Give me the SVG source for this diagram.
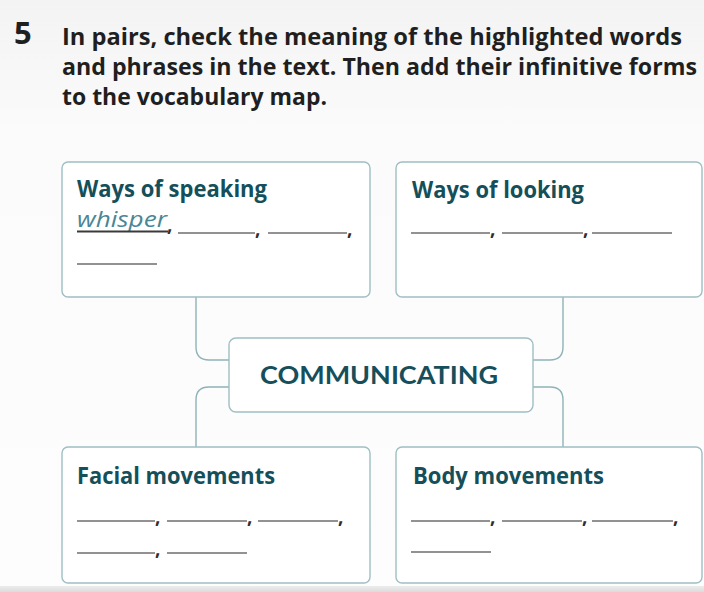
<svg xmlns="http://www.w3.org/2000/svg" width="704" height="592" viewBox="0 0 704 592">
  <defs>
    <linearGradient id="page" x1="0" y1="0" x2="0" y2="1">
      <stop offset="0" stop-color="#f3f3f3"/>
      <stop offset="0.22" stop-color="#fbfbfb"/>
      <stop offset="1" stop-color="#fdfdfd"/>
    </linearGradient>
    <linearGradient id="shade" x1="0" y1="0" x2="0" y2="1">
      <stop offset="0" stop-color="#ececec"/>
      <stop offset="1" stop-color="#dcdcdc"/>
    </linearGradient>
  </defs>
  <style>
    .box { fill: #ffffff; stroke: #9fbfc4; stroke-width: 1.4; }
    .link { fill: none; stroke: #8fb3b8; stroke-width: 1.4; }
    .title { font-family: "Open Sans", "Noto Sans", sans-serif; font-weight: bold; font-size: 23.5px; fill: #1f1f1f; }
    .num { font-family: "Open Sans", "Noto Sans", sans-serif; font-weight: bold; font-size: 31px; fill: #1f1f1f; }
    .head { font-family: "Open Sans", "Noto Sans", sans-serif; font-weight: bold; font-size: 23px; fill: #144f5a; }
    .hub { font-family: Lato, "Open Sans", sans-serif; font-weight: bold; font-size: 25px; fill: #164f5b; }
    .eg { font-family: "Open Sans", "Noto Sans", sans-serif; font-style: italic; font-size: 22px; fill: #4a8696; }
    .blank { stroke: #6e6e6e; stroke-width: 1.6; }
    .sep { font-family: "Open Sans", sans-serif; font-weight: bold; font-size: 19px; fill: #2e2e2e; }
  </style>

  <rect width="704" height="592" fill="url(#page)"/>
  <rect x="0" y="586" width="704" height="6" fill="url(#shade)"/>

  <!-- Instruction -->
  <g id="instruction">
    <text class="num" x="14" y="44">5</text>
    <text class="title" x="62" y="45" textLength="620" lengthAdjust="spacingAndGlyphs">In pairs, check the meaning of the highlighted words</text>
    <text class="title" x="62" y="75" textLength="635" lengthAdjust="spacingAndGlyphs">and phrases in the text. Then add their infinitive forms</text>
    <text class="title" x="62" y="105" textLength="265" lengthAdjust="spacingAndGlyphs">to the vocabulary map.</text>
  </g>

  <!-- Connectors -->
  <g id="connectors">
    <path class="link" d="M196 297 V347 Q196 360 209 360 H229"/>
    <path class="link" d="M229 387 H209 Q196 387 196 400 V447"/>
    <path class="link" d="M563 297 V347 Q563 360 550 360 H533"/>
    <path class="link" d="M533 387 H550 Q563 387 563 400 V447"/>
  </g>

  <!-- Hub -->
  <g id="communicating">
    <rect class="box" x="229" y="338" width="304" height="74" rx="7"/>
    <text class="hub" x="260" y="384" textLength="238" lengthAdjust="spacingAndGlyphs">COMMUNICATING</text>
  </g>

  <!-- Ways of speaking -->
  <g id="ways-of-speaking">
    <rect class="box" x="62" y="162" width="308" height="135" rx="6"/>
    <text class="head" x="77" y="197" textLength="190" lengthAdjust="spacingAndGlyphs">Ways of speaking</text>
    <text class="eg" x="77" y="227" textLength="90" lengthAdjust="spacingAndGlyphs">whisper</text>
    <line x1="77" y1="231.5" x2="168" y2="231.5" stroke="#3a3a3a" stroke-width="1.8"/>
    <text class="sep" x="167" y="231">,</text>
    <line class="blank" x1="178" y1="233" x2="255" y2="233"/>
    <text class="sep" x="255" y="235">,</text>
    <line class="blank" x1="268" y1="233" x2="347" y2="233"/>
    <text class="sep" x="347" y="235">,</text>
    <line class="blank" x1="77" y1="264" x2="157" y2="264"/>
  </g>

  <!-- Ways of looking -->
  <g id="ways-of-looking">
    <rect class="box" x="396" y="162" width="306" height="135" rx="6"/>
    <text class="head" x="412" y="198" textLength="172" lengthAdjust="spacingAndGlyphs">Ways of looking</text>
    <line class="blank" x1="411" y1="233" x2="490" y2="233"/>
    <text class="sep" x="490" y="235">,</text>
    <line class="blank" x1="502" y1="233" x2="583" y2="233"/>
    <text class="sep" x="583" y="235">,</text>
    <line class="blank" x1="592" y1="233" x2="672" y2="233"/>
  </g>

  <!-- Facial movements -->
  <g id="facial-movements">
    <rect class="box" x="62" y="447" width="308" height="136" rx="6"/>
    <text class="head" x="77" y="484" textLength="198" lengthAdjust="spacingAndGlyphs">Facial movements</text>
    <line class="blank" x1="77" y1="521" x2="155" y2="521"/>
    <text class="sep" x="155" y="523">,</text>
    <line class="blank" x1="167" y1="521" x2="247" y2="521"/>
    <text class="sep" x="247" y="523">,</text>
    <line class="blank" x1="258" y1="521" x2="338" y2="521"/>
    <text class="sep" x="338" y="523">,</text>
    <line class="blank" x1="77" y1="553" x2="155" y2="553"/>
    <text class="sep" x="155" y="555">,</text>
    <line class="blank" x1="167" y1="553" x2="247" y2="553"/>
  </g>

  <!-- Body movements -->
  <g id="body-movements">
    <rect class="box" x="396" y="447" width="306" height="136" rx="6"/>
    <text class="head" x="413" y="484" textLength="191" lengthAdjust="spacingAndGlyphs">Body movements</text>
    <line class="blank" x1="411" y1="521" x2="490" y2="521"/>
    <text class="sep" x="490" y="523">,</text>
    <line class="blank" x1="502" y1="521" x2="582" y2="521"/>
    <text class="sep" x="582" y="523">,</text>
    <line class="blank" x1="592" y1="521" x2="673" y2="521"/>
    <text class="sep" x="673" y="523">,</text>
    <line class="blank" x1="411" y1="552" x2="491" y2="552"/>
  </g>
</svg>
